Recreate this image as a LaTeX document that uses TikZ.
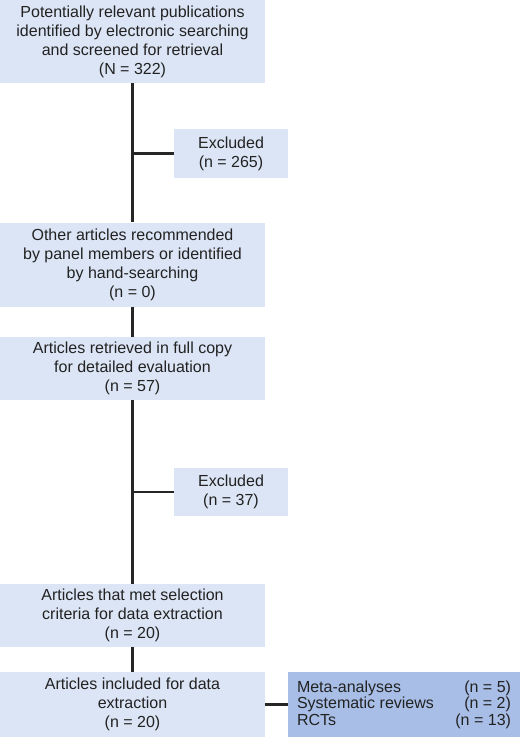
\documentclass[tikz,border=0pt]{standalone}
\usepackage{fontspec}
\setmainfont{Liberation Sans}
\definecolor{boxlight}{HTML}{DCE5F5}
\definecolor{boxdark}{HTML}{A8BEE6}
\definecolor{txt}{HTML}{222222}
\begin{document}
\begin{tikzpicture}[x=1pt,y=-1pt,
  box/.style={fill=boxlight,draw=none,inner sep=0pt,align=center,text=txt,
    font=\fontsize{16}{19}\selectfont},
  link/.style={draw=black!85,line width=2.2pt}]
\useasboundingbox (0,0) rectangle (520,737);
% main boxes
\node[box,minimum width=265pt,minimum height=83pt] (b1) at (132.5,41.5)
  {Potentially relevant publications\\identified by electronic searching\\and screened for retrieval\\(N = 322)};
\node[box,minimum width=114pt,minimum height=49pt] (e1) at (231,153.5)
  {Excluded\\(n = 265)};
\node[box,minimum width=265pt,minimum height=84pt] (b2) at (132.5,264.5)
  {Other articles recommended\\by panel members or identified\\by hand-searching\\(n = 0)};
\node[box,minimum width=265pt,minimum height=63pt] (b3) at (132.5,368.5)
  {Articles retrieved in full copy\\for detailed evaluation\\(n = 57)};
\node[box,minimum width=114pt,minimum height=48pt] (e2) at (231,492)
  {Excluded\\(n = 37)};
\node[box,minimum width=265pt,minimum height=63pt] (b4) at (132.5,615.5)
  {Articles that met selection\\criteria for data extraction\\(n = 20)};
\node[box,minimum width=265pt,minimum height=65pt] (b5) at (132.5,704.5)
  {Articles included for data\\extraction\\(n = 20)};
\node[box,fill=boxdark,align=left,minimum width=232pt,minimum height=65pt,
  font=\fontsize{16}{16.5}\selectfont] (b6) at (404,704.5)
  {\makebox[214pt]{Meta-analyses\hfill(n = 5)}\\
   \makebox[214pt]{Systematic reviews\hfill(n = 2)}\\
   \makebox[214pt]{RCTs\hfill(n = 13)}};
% connectors
\coordinate (j1) at (b1.south |- e1.west);
\coordinate (j2) at (b3.south |- e2.west);
\draw[link] (b1.south) -- (b2.north);
\draw[link] (j1) -- (e1.west);
\draw[link] (b2.south) -- (b3.north);
\draw[link] (b3.south) -- (b4.north);
\draw[link] (j2) -- (e2.west);
\draw[link] (b4.south) -- (b5.north);
\draw[link] (b5.east) -- (b6.west);
\end{tikzpicture}
\end{document}
